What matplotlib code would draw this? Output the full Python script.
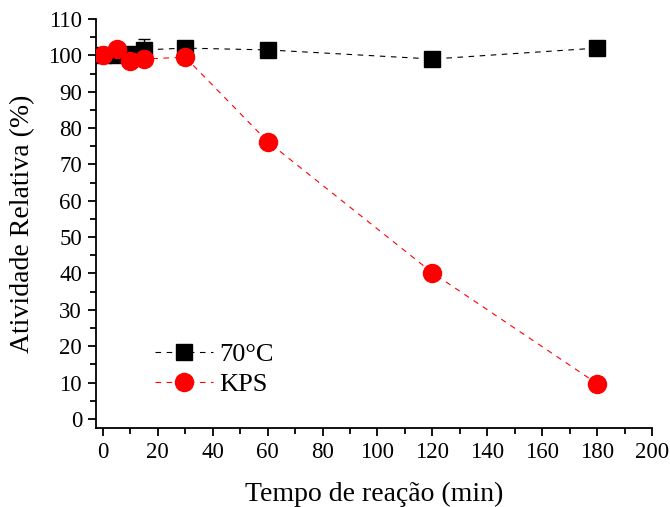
import numpy as np
import matplotlib.pyplot as plt
from matplotlib.lines import Line2D
from matplotlib.ticker import MultipleLocator

plt.rcParams['font.family'] = ['Liberation Serif', 'DejaVu Serif']

tempo = [0, 5, 10, 15, 30, 60, 120, 180]
ativ_70c = [100.0, 100.0, 100.5, 101.5, 102.0, 101.5, 99.0, 102.0]
err_70c = [1.0, 1.0, 1.0, 3.0, 1.0, 1.0, 1.0, 1.0]
ativ_kps = [100.0, 101.8, 98.5, 99.0, 99.5, 76.3, 40.2, 9.7]
err_kps = [1.0, 1.0, 1.0, 1.0, 2.0, 1.0, 1.0, 1.0]

fig = plt.figure(figsize=(6.7, 5.07), dpi=100)
ax = fig.add_axes([0.1433, 0.1558, 0.8299, 0.8067])

ax.errorbar(tempo, ativ_70c, yerr=err_70c, color='black', ls='--', lw=0.8,
            marker='s', ms=11, capsize=4, elinewidth=1, dashes=(5, 5), zorder=3)
ax.errorbar(tempo, ativ_kps, yerr=err_kps, color='red', ecolor='black', ls='--', lw=0.8,
            marker='o', ms=13, capsize=4, elinewidth=1, dashes=(5, 5), zorder=4)

ax.set_xlim(-2.5, 200)
ax.set_ylim(-2.5, 110)
ax.xaxis.set_major_locator(MultipleLocator(20))
ax.xaxis.set_minor_locator(MultipleLocator(10))
ax.yaxis.set_major_locator(MultipleLocator(10))
ax.yaxis.set_minor_locator(MultipleLocator(5))
ax.spines['top'].set_visible(False)
ax.spines['right'].set_visible(False)
ax.spines['left'].set_linewidth(1.3)
ax.spines['bottom'].set_linewidth(1.3)
ax.tick_params(which='major', direction='out', length=6, width=1.3, labelsize=16.5, pad=4)
ax.tick_params(which='minor', direction='out', length=4, width=1.3)

ax.set_xlabel('Tempo de reação (min)', fontsize=20, labelpad=14)
ax.set_ylabel('Atividade Relativa (%)', fontsize=20, labelpad=9)

handles = [
    Line2D([], [], color='black', ls='--', lw=0.8, dashes=(5, 5), marker='s', ms=11),
    Line2D([], [], color='red', ls='--', lw=0.8, dashes=(5, 5), marker='o', ms=13),
]
ax.legend(handles, ['70°C', 'KPS'], loc='lower left', bbox_to_anchor=(0.231, 0.219),
          bbox_transform=fig.transFigure, frameon=False, fontsize=19, borderpad=0,
          borderaxespad=0, handlelength=2.2, handletextpad=0.25, labelspacing=0.25)

fig.savefig('out.png', dpi=100)
